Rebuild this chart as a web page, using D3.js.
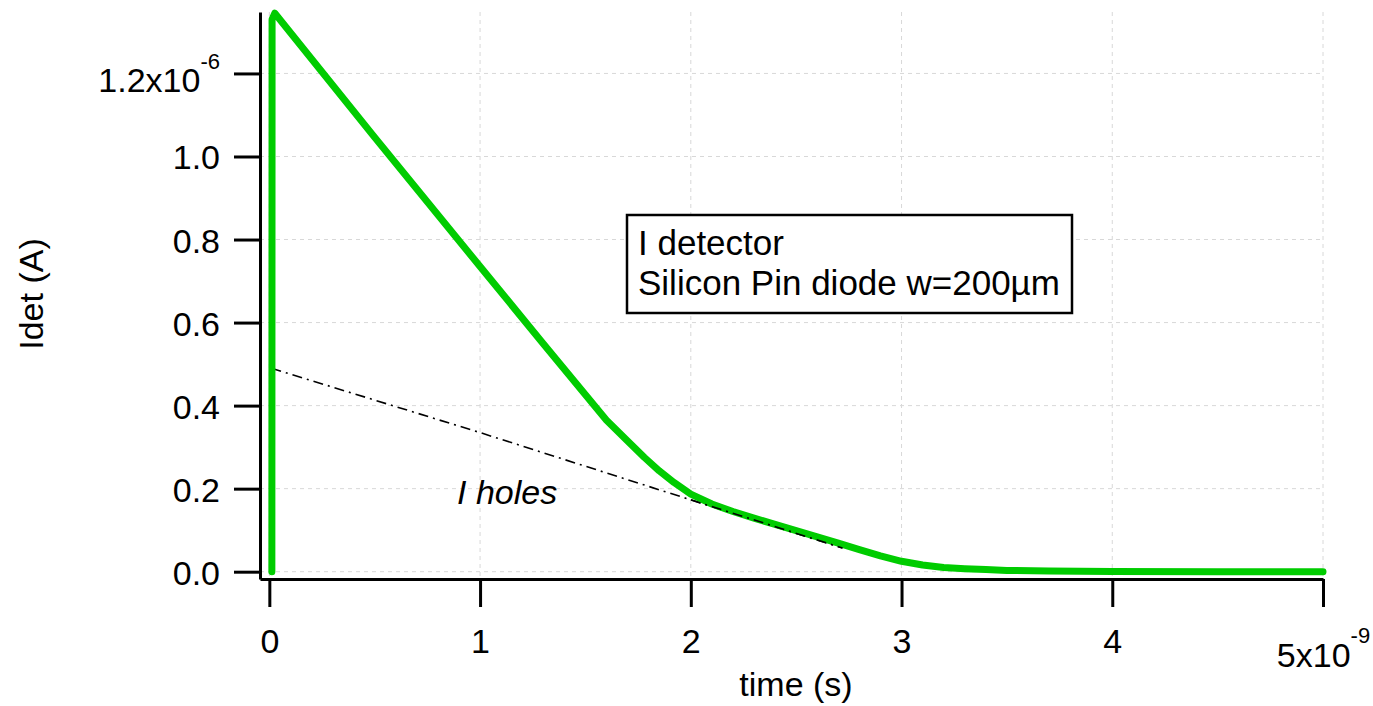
<!DOCTYPE html>
<html>
<head>
<meta charset="utf-8">
<script src="https://cdn.jsdelivr.net/npm/d3@7"></script>
<style>
  html, body { margin: 0; padding: 0; background: #fff; }
  svg { display: block; font-family: "Liberation Sans", Arial, sans-serif; }
</style>
</head>
<body>
<svg id="chart" width="1373" height="706"></svg>
<script>
// Detector current of a silicon PIN diode (time in ns, current in µA)
const timeNs    = [0.012, 0.013, 0.026, 0.5,   1.0,   1.3,   1.6,   1.7,   1.78,  1.85,  1.92,  2.0,   2.1,   2.2,   2.3,   2.4,   2.5,   2.6,   2.7,   2.8,   2.9,   3.0,   3.1,   3.2,   3.3,   3.4,   3.5,   3.7,    4.0,    4.5,    5.0];
const currentUA = [0.0,   1.33,  1.345, 1.046, 0.735, 0.549, 0.365, 0.315, 0.275, 0.243, 0.215, 0.187, 0.163, 0.145, 0.129, 0.114, 0.099, 0.084, 0.069, 0.053, 0.038, 0.025, 0.016, 0.010, 0.007, 0.005, 0.003, 0.0015, 0.0006, 0.0001, 0.0];

// Hole contribution (dash-dot)
const holesTimeNs    = [0.01, 1.0,   2.0,   2.72];
const holesCurrentUA = [0.49, 0.335, 0.173, 0.057];

// Axis ticks
const xTicks = [0, 1, 2, 3, 4, 5];
const xTickLabels = ["0", "1", "2", "3", "4", "5x10"];
const xExponent = "-9";
const yTicks = [0, 0.2, 0.4, 0.6, 0.8, 1.0, 1.2];
const yTickLabels = ["0.0", "0.2", "0.4", "0.6", "0.8", "1.0", "1.2x10"];
const yExponent = "-6";

const legendLines = ["I detector", "Silicon Pin diode w=200µm"];

const svg = d3.select("#chart");
const FONT = 34;

const x = d3.scaleLinear().domain([-0.0443, 5]).range([260, 1323]);
const y = d3.scaleLinear().domain([-0.0176, 1.348]).range([579, 12]);

// Grid
const grid = svg.append("g").attr("stroke", "#d8d8d8").attr("stroke-width", 1)
  .attr("stroke-dasharray", "4,4").attr("fill", "none");
grid.selectAll("line.h").data(yTicks).join("line").attr("class", "h")
  .attr("x1", x.range()[0]).attr("x2", x.range()[1])
  .attr("y1", d => y(d)).attr("y2", d => y(d));
grid.selectAll("line.v").data(xTicks).join("line").attr("class", "v")
  .attr("x1", d => x(d)).attr("x2", d => x(d))
  .attr("y1", y.range()[1]).attr("y2", y.range()[0]);

// Axes
const xAxis = d3.axisBottom(x).tickValues(xTicks).tickSize(28).tickSizeOuter(0)
  .tickFormat((d, i) => xTickLabels[i]);
const gx = svg.append("g").attr("transform", `translate(0,${y.range()[0]})`).call(xAxis);

const yAxis = d3.axisLeft(y).tickValues(yTicks).tickSize(26).tickSizeOuter(0)
  .tickPadding(14).tickFormat((d, i) => yTickLabels[i]);
const gy = svg.append("g").attr("transform", `translate(${x.range()[0]},0)`).call(yAxis);

[gx, gy].forEach(g => {
  g.select(".domain").attr("stroke", "#000").attr("stroke-width", 3);
  g.selectAll(".tick line").attr("stroke", "#000").attr("stroke-width", 3);
  g.selectAll(".tick text").attr("font-size", FONT).attr("fill", "#000")
    .attr("font-family", "Liberation Sans, Arial, sans-serif");
});

// Baseline positions of the tick labels; the exponent labels sit a little lower
gx.selectAll(".tick text").attr("dy", null)
  .attr("y", (d, i) => i === xTicks.length - 1 ? 88 : 74);
gy.selectAll(".tick text").attr("dy", null)
  .attr("y", (d, i) => i === yTicks.length - 1 ? 18.5 : 12.5);

// Exponent superscripts on the last tick labels
gx.selectAll(".tick text").filter((d, i) => i === xTicks.length - 1)
  .append("tspan").attr("font-size", 22).attr("dy", -24).text(xExponent);
gy.selectAll(".tick text").filter((d, i) => i === yTicks.length - 1)
  .append("tspan").attr("font-size", 22).attr("dy", -23).text(yExponent);

// Axis titles
svg.append("text").attr("x", 796).attr("y", 696).attr("text-anchor", "middle")
  .attr("font-size", FONT).text("time (s)");
svg.append("text").attr("transform", "translate(43,294) rotate(-90)")
  .attr("text-anchor", "middle").attr("font-size", FONT).text("Idet (A)");

// Hole current (dash-dot)
const holesLine = d3.line().x(d => x(d[0])).y(d => y(d[1]));
svg.append("path")
  .datum(d3.zip(holesTimeNs, holesCurrentUA))
  .attr("d", holesLine)
  .attr("fill", "none").attr("stroke", "#000").attr("stroke-width", 1.6)
  .attr("stroke-dasharray", "10,5,2,5");

// Detector current
const line = d3.line().x(d => x(d[0])).y(d => y(d[1]));
svg.append("path")
  .datum(d3.zip(timeNs, currentUA))
  .attr("d", line)
  .attr("fill", "none").attr("stroke", "#00cc00").attr("stroke-width", 7)
  .attr("stroke-linejoin", "round").attr("stroke-linecap", "round");

// The dash-dot segment that runs along the green curve stays visible on top
svg.append("path")
  .datum(d3.zip(holesTimeNs, holesCurrentUA).slice(2))
  .attr("d", holesLine)
  .attr("fill", "none").attr("stroke", "#000").attr("stroke-width", 1.6)
  .attr("stroke-dasharray", "10,5,2,5");

// Annotation
svg.append("text").attr("x", 457).attr("y", 504).attr("font-size", FONT)
  .attr("font-style", "italic").text("I holes");

// Legend box
const legend = svg.append("g");
legend.append("rect").attr("x", 627).attr("y", 215).attr("width", 445).attr("height", 98)
  .attr("fill", "#fff").attr("stroke", "#000").attr("stroke-width", 2.5);
legend.selectAll("text").data(legendLines).join("text")
  .attr("x", 638).attr("y", (d, i) => 255 + i * 40)
  .attr("font-size", 35).text(d => d);
</script>
</body>
</html>
